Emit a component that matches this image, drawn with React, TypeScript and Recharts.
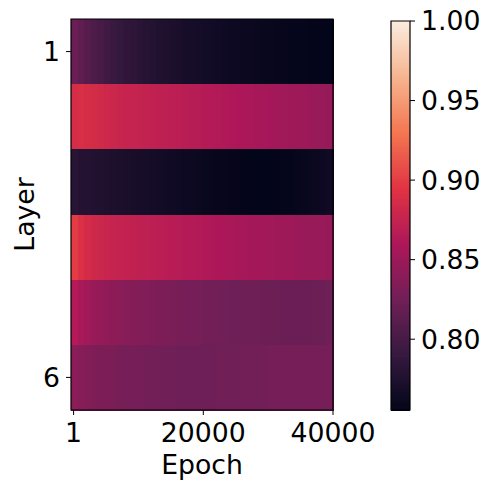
import React from 'react';
import { ComposedChart, XAxis, YAxis, ReferenceArea, Scatter, Label } from 'recharts';

// Epochs (right edge of each column)
const EPOCHS = [1000, 2000, 3000, 4000, 5000, 6000, 7000, 8000, 9000, 10000,
  11000, 12000, 13000, 14000, 15000, 16000, 17000, 18000, 19000, 20000,
  21000, 22000, 23000, 24000, 25000, 26000, 27000, 28000, 29000, 30000,
  31000, 32000, 33000, 34000, 35000, 36000, 37000, 38000, 39000, 40000];

const LAYERS = [1, 2, 3, 4, 5, 6];
const X_TICKS = [1, 20000, 40000];
const Y_TICKS = [1, 6];
const CBAR_TICKS = [0.8, 0.85, 0.9, 0.95, 1.0];

const LAYER_1 = [0.821, 0.815, 0.810, 0.805, 0.801, 0.797, 0.793, 0.790, 0.787, 0.785,
  0.782, 0.780, 0.778, 0.776, 0.775, 0.773, 0.772, 0.770, 0.769, 0.768,
  0.767, 0.766, 0.765, 0.764, 0.763, 0.762, 0.761, 0.761, 0.760, 0.759,
  0.759, 0.758, 0.758, 0.757, 0.757, 0.757, 0.756, 0.756, 0.756, 0.7555];
const LAYER_2 = [0.887, 0.889, 0.888, 0.886, 0.884, 0.882, 0.880, 0.878, 0.877, 0.876,
  0.875, 0.874, 0.873, 0.872, 0.871, 0.870, 0.869, 0.868, 0.867, 0.866,
  0.865, 0.864, 0.863, 0.862, 0.861, 0.860, 0.859, 0.858, 0.857, 0.856,
  0.855, 0.854, 0.853, 0.852, 0.851, 0.851, 0.850, 0.849, 0.848, 0.847];
const LAYER_3 = [0.781, 0.779, 0.778, 0.777, 0.776, 0.775, 0.774, 0.773, 0.772, 0.771,
  0.770, 0.769, 0.768, 0.767, 0.766, 0.765, 0.764, 0.763, 0.762, 0.761,
  0.760, 0.759, 0.758, 0.758, 0.757, 0.757, 0.756, 0.756, 0.7555, 0.7555,
  0.756, 0.756, 0.757, 0.757, 0.758, 0.759, 0.760, 0.761, 0.763, 0.765];
const LAYER_4 = [0.900, 0.891, 0.886, 0.883, 0.880, 0.878, 0.876, 0.875, 0.874, 0.873,
  0.872, 0.871, 0.870, 0.869, 0.868, 0.867, 0.866, 0.865, 0.864, 0.863,
  0.862, 0.861, 0.860, 0.859, 0.858, 0.857, 0.856, 0.855, 0.854, 0.854,
  0.853, 0.852, 0.851, 0.851, 0.850, 0.849, 0.849, 0.848, 0.848, 0.847];
const LAYER_5 = [0.864, 0.858, 0.853, 0.849, 0.846, 0.844, 0.842, 0.840, 0.838, 0.837,
  0.836, 0.835, 0.834, 0.833, 0.832, 0.831, 0.830, 0.829, 0.828, 0.828,
  0.827, 0.827, 0.826, 0.826, 0.825, 0.825, 0.824, 0.824, 0.824, 0.823,
  0.823, 0.823, 0.822, 0.822, 0.822, 0.822, 0.822, 0.823, 0.823, 0.824];
const LAYER_6 = [0.840, 0.838, 0.836, 0.834, 0.833, 0.832, 0.831, 0.830, 0.829, 0.828,
  0.828, 0.827, 0.827, 0.826, 0.826, 0.826, 0.825, 0.825, 0.825, 0.825,
  0.825, 0.825, 0.826, 0.826, 0.826, 0.826, 0.827, 0.827, 0.827, 0.827,
  0.828, 0.828, 0.828, 0.828, 0.828, 0.829, 0.829, 0.829, 0.829, 0.829];

const ROWS = [LAYER_1, LAYER_2, LAYER_3, LAYER_4, LAYER_5, LAYER_6];

const VMIN = 0.7555;
const VMAX = 1.0;
const X_MIN = -400;
const X_MAX = 40000;

const FONT = "'DejaVu Sans', sans-serif";
const FS = 26.7;

// rocket colormap anchors
const ROCKET: [number, number[]][] = [
  [0.0, [3, 5, 26]],
  [1 / 7, [53, 25, 62]],
  [2 / 7, [112, 31, 87]],
  [3 / 7, [173, 23, 89]],
  [4 / 7, [225, 51, 66]],
  [5 / 7, [243, 118, 81]],
  [6 / 7, [246, 180, 143]],
  [1.0, [250, 235, 221]],
];

function rocket(t: number): string {
  const tt = Math.max(0, Math.min(1, t));
  for (let i = 0; i < ROCKET.length - 1; i++) {
    const [t0, c0] = ROCKET[i];
    const [t1, c1] = ROCKET[i + 1];
    if (tt <= t1) {
      const f = (tt - t0) / (t1 - t0);
      const c = c0.map((v, k) => Math.round(v + (c1[k] - v) * f));
      return `rgb(${c[0]},${c[1]},${c[2]})`;
    }
  }
  return 'rgb(250,235,221)';
}
const colorOf = (v: number) => rocket((v - VMIN) / (VMAX - VMIN));

const colW = (X_MAX - X_MIN) / EPOCHS.length;
const cells = LAYERS.flatMap((layer, r) =>
  EPOCHS.map((e, c) => ({
    x1: X_MIN + c * colW,
    x2: X_MIN + (c + 1) * colW,
    y: layer,
    epoch: e,
    value: ROWS[r][c],
  }))
);
const dummy = cells.map((c) => ({ x: (c.x1 + c.x2) / 2, y: c.y }));

const N_SLICES = 200;
const slices = Array.from({ length: N_SLICES }, (_, i) => {
  const a = VMIN + ((VMAX - VMIN) * i) / N_SLICES;
  const b = VMIN + ((VMAX - VMIN) * (i + 1)) / N_SLICES;
  return { a, b, color: colorOf((a + b) / 2) };
});

const tickStyle = { fill: '#000', fontSize: FS, fontFamily: FONT };

const cellShape = (color: string, padW: number, padH: number) => (p: any) => (
  <rect
    x={p.x}
    y={p.y}
    width={Math.max(0, p.width + padW)}
    height={Math.max(0, p.height + padH)}
    fill={color}
    stroke="none"
    shapeRendering="crispEdges"
  />
);

export default function App() {
  return (
    <div style={{ position: 'absolute', left: 0, top: 0, width: 490, height: 491, background: '#fff' }}>
      <div style={{ position: 'absolute', left: 0, top: 0 }}>
        <ComposedChart width={385} height={491} margin={{ top: 19, right: 52, bottom: 0, left: 0 }} data={dummy}>
          <XAxis
            dataKey="x"
            type="number"
            domain={[X_MIN, X_MAX]}
            allowDataOverflow
            ticks={X_TICKS}
            interval={0}
            height={81}
            axisLine={false}
            stroke="#000"
            tickSize={5}
            tickMargin={8}
            tick={tickStyle}
          >
            <Label
              content={(p: any) => {
                const vb = p.viewBox || { x: 71, y: 410, width: 262, height: 81 };
                return (
                  <text x={vb.x + vb.width / 2} y={vb.y + 64} textAnchor="middle" fontSize={FS} fontFamily={FONT} fill="#000">
                    Epoch
                  </text>
                );
              }}
            />
          </XAxis>
          <YAxis
            dataKey="y"
            type="number"
            domain={[0.5, 6.5]}
            reversed
            allowDataOverflow
            ticks={Y_TICKS}
            interval={0}
            width={71}
            axisLine={false}
            stroke="#000"
            tickSize={5}
            tickMargin={6}
            tick={tickStyle}
          >
            <Label
              content={(p: any) => {
                const vb = p.viewBox || { x: 0, y: 19, width: 71, height: 391 };
                const cx = 34;
                const cy = vb.y + vb.height / 2;
                return (
                  <text x={cx} y={cy} transform={`rotate(-90, ${cx}, ${cy})`} textAnchor="middle" fontSize={FS} fontFamily={FONT} fill="#000">
                    Layer
                  </text>
                );
              }}
            />
          </YAxis>
          <Scatter data={dummy} dataKey="y" isAnimationActive={false} shape={() => <g />} />
          {cells.map((c, i) => (
            <ReferenceArea
              key={i}
              x1={c.x1}
              x2={c.x2}
              y1={c.y - 0.5}
              y2={c.y + 0.5}
              ifOverflow="visible"
              shape={cellShape(colorOf(c.value), 1, 1)}
            />
          ))}
          <ReferenceArea x1={X_MIN} x2={X_MAX} y1={0.5} y2={6.5} fill="none" stroke="#000" strokeWidth={1.2} ifOverflow="visible" />
        </ComposedChart>
      </div>
      <div style={{ position: 'absolute', left: 340, top: 0 }}>
        <ComposedChart width={150} height={491} margin={{ top: 21, right: 0, bottom: 81, left: 51 }} data={[{ x: 0.5, y: 0.9 }]}>
          <XAxis dataKey="x" type="number" domain={[0, 1]} hide />
          <YAxis
            dataKey="y"
            type="number"
            orientation="right"
            domain={[VMIN, VMAX]}
            allowDataOverflow
            ticks={CBAR_TICKS}
            interval={0}
            width={80}
            axisLine={false}
            stroke="#000"
            tickSize={5}
            tickMargin={6}
            tick={tickStyle}
            tickFormatter={(v: number) => v.toFixed(2)}
          />
          <Scatter dataKey="y" isAnimationActive={false} shape={() => <g />} />
          {slices.map((s, i) => (
            <ReferenceArea key={i} x1={0} x2={1} y1={s.a} y2={s.b} ifOverflow="visible" shape={cellShape(s.color, 0, 1)} />
          ))}
          <ReferenceArea x1={0} x2={1} y1={VMIN} y2={VMAX} fill="none" stroke="#000" strokeWidth={1.2} ifOverflow="visible" />
        </ComposedChart>
      </div>
    </div>
  );
}
